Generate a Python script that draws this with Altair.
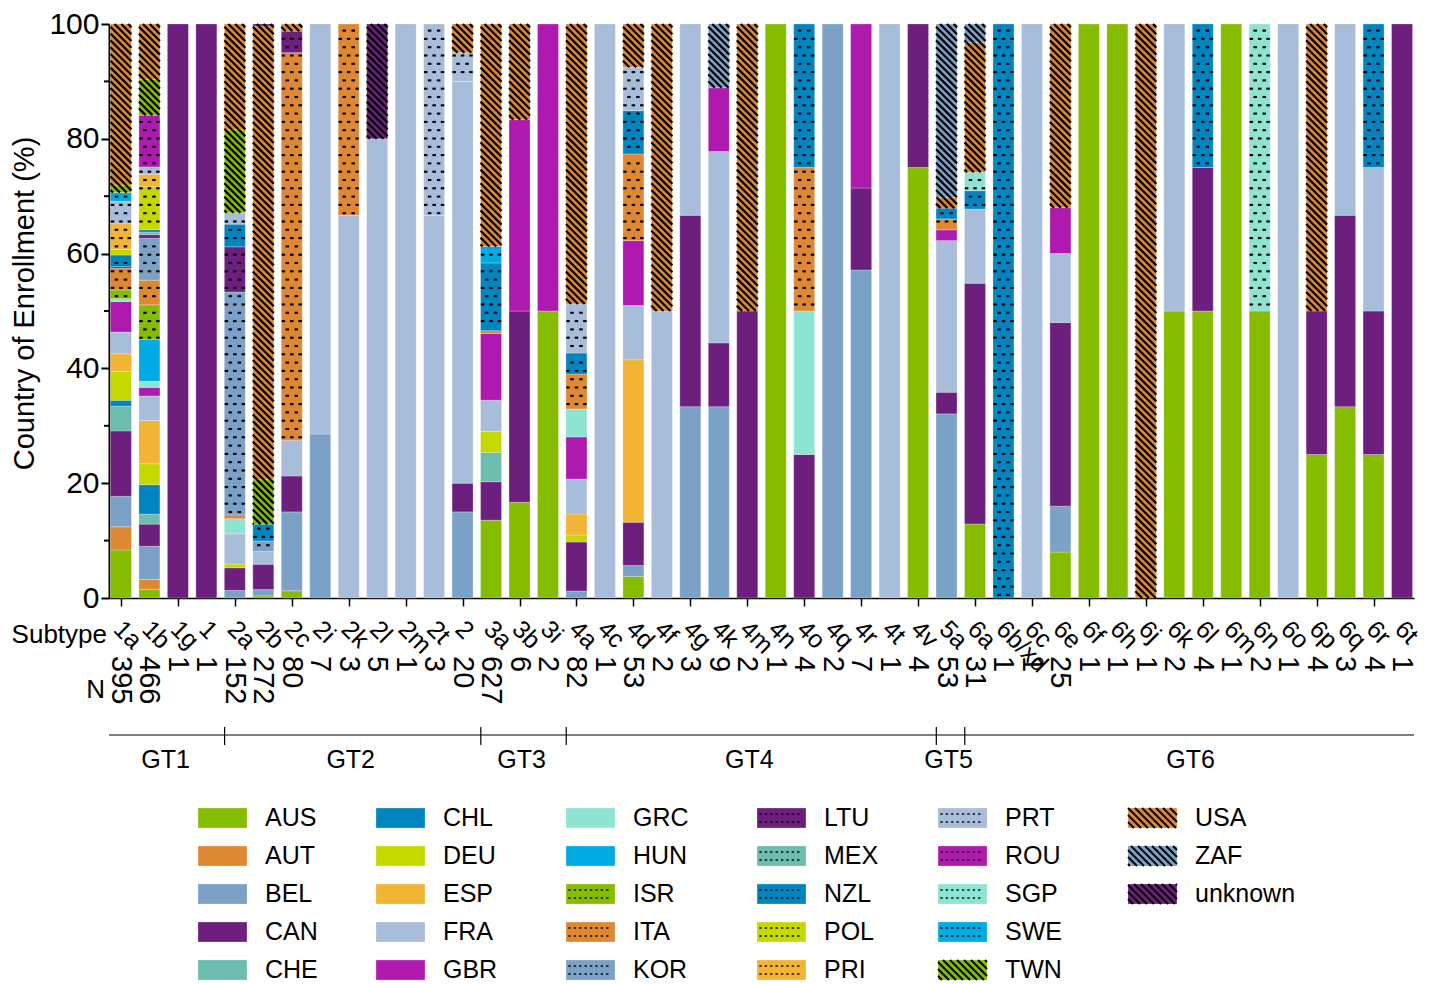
import math
import altair as alt
import pandas as pd

# ---------------- data ----------------
SUBTYPES = ["1a", "1b", "1g", "1", "2a", "2b", "2c", "2i", "2k", "2l", "2m", "2t", "2",
            "3a", "3b", "3i", "4a", "4c", "4d", "4f", "4g", "4k", "4m", "4n", "4o", "4q",
            "4r", "4t", "4v", "5a", "6a", "6b/xd", "6c", "6e", "6f", "6h", "6j", "6k",
            "6l", "6m", "6n", "6o", "6p", "6q", "6r", "6t"]
N_VALUES = [395, 466, 1, 1, 152, 272, 80, 7, 3, 5, 1, 3, 20, 627, 6, 2, 82, 1, 53, 2, 3,
            9, 2, 1, 4, 2, 7, 1, 4, 53, 31, 1, 1, 25, 1, 1, 1, 2, 4, 1, 2, 1, 4, 3, 4, 1]

COUNTRIES = ["AUS", "AUT", "BEL", "CAN", "CHE", "CHL", "DEU", "ESP", "FRA", "GBR", "GRC",
             "HUN", "ISR", "ITA", "KOR", "LTU", "MEX", "NZL", "POL", "PRI", "PRT", "ROU",
             "SGP", "SWE", "TWN", "USA", "ZAF", "unknown"]
BASE_COLORS = ["#86bc00", "#de8834", "#7ba1c6", "#6d1f7e", "#6dbcb0", "#0085be",
               "#c5d800", "#f1b434", "#a8bdd9", "#ae1aad", "#8ee4d3", "#00aae2"]
PATTERNS = ["solid", "dots", "hatch"]

GT1_COUNTS = {
    "1a": {"AUS": 33, "AUT": 16, "BEL": 21, "CAN": 45, "CHE": 17, "CHL": 4, "DEU": 20,
           "ESP": 12, "FRA": 15, "GBR": 21, "GRC": 2, "ISR": 6, "ITA": 15, "LTU": 1,
           "NZL": 8, "POL": 4, "PRI": 18, "PRT": 15, "SWE": 6, "TWN": 5, "USA": 111},
    "1b": {"AUS": 7, "AUT": 8, "BEL": 27, "CAN": 18, "CHE": 8, "CHL": 24, "DEU": 17,
           "ESP": 35, "FRA": 20, "GBR": 7, "GRC": 5, "HUN": 34, "ISR": 28, "ITA": 20,
           "KOR": 34, "LTU": 3, "MEX": 2, "NZL": 2, "POL": 35, "PRI": 10, "PRT": 6,
           "ROU": 42, "TWN": 29, "USA": 45},
    "1g": {"CAN": 1},
    "1": {"CAN": 1},
}
GT2_COUNTS = {
    "2a": {"BEL": 2, "CAN": 6, "DEU": 1, "FRA": 8, "GRC": 4, "ITA": 1, "KOR": 59,
           "LTU": 12, "NZL": 6, "PRT": 3, "TWN": 22, "USA": 28},
    "2b": {"AUS": 1, "BEL": 3, "CAN": 12, "FRA": 6, "KOR": 5, "NZL": 8, "TWN": 21,
           "USA": 215, "unknown": 1},
    "2c": {"AUS": 1, "BEL": 11, "CAN": 5, "FRA": 5, "ITA": 54, "LTU": 3, "USA": 1},
    "2i": {"BEL": 2, "FRA": 5},
    "2k": {"FRA": 2, "ITA": 1},
    "2l": {"FRA": 4, "unknown": 1},
    "2m": {"FRA": 1},
    "2t": {"FRA": 2, "PRT": 1},
    "2": {"BEL": 3, "CAN": 1, "FRA": 14, "PRT": 1, "USA": 1},
}
GT3_COUNTS = {
    "3a": {"AUS": 85, "CAN": 42, "CHE": 32, "DEU": 23, "FRA": 34, "GBR": 73, "ITA": 3,
           "NZL": 74, "SWE": 18, "USA": 243},
    "3b": {"AUS": 1, "CAN": 2, "GBR": 2, "USA": 1},
    "3i": {"AUS": 1, "GBR": 1},
}
GT4_COUNTS = {
    "4a": {"BEL": 1, "CAN": 7, "DEU": 1, "ESP": 3, "FRA": 5, "GBR": 6, "GRC": 4,
           "ITA": 5, "NZL": 3, "PRT": 7, "USA": 40},
    "4c": {"FRA": 1},
    "4d": {"AUS": 2, "BEL": 1, "CAN": 4, "ESP": 15, "FRA": 5, "GBR": 6, "ITA": 8,
           "NZL": 4, "PRT": 4, "USA": 4},
    "4f": {"FRA": 1, "USA": 1},
    "4g": {"BEL": 1, "CAN": 1, "FRA": 1},
    "4k": {"BEL": 3, "CAN": 1, "FRA": 3, "GBR": 1, "ZAF": 1},
    "4m": {"CAN": 1, "USA": 1},
    "4n": {"AUS": 1},
    "4o": {"CAN": 1, "GRC": 1, "ITA": 1, "NZL": 1},
    "4q": {"BEL": 2},
    "4r": {"BEL": 4, "CAN": 1, "GBR": 2},
    "4t": {"FRA": 1},
    "4v": {"AUS": 3, "CAN": 1},
}
GT5_COUNTS = {
    "5a": {"BEL": 17, "CAN": 2, "FRA": 14, "GBR": 1, "ITA": 1, "NZL": 1, "USA": 1,
           "ZAF": 16},
}
GT6_COUNTS = {
    "6a": {"AUS": 4, "CAN": 13, "FRA": 4, "NZL": 1, "SGP": 1, "USA": 7, "ZAF": 1},
    "6b/xd": {"NZL": 1},
    "6c": {"FRA": 1},
    "6e": {"AUS": 2, "BEL": 2, "CAN": 8, "FRA": 3, "GBR": 2, "USA": 8},
    "6f": {"AUS": 1},
    "6h": {"AUS": 1},
    "6j": {"USA": 1},
    "6k": {"AUS": 1, "FRA": 1},
    "6l": {"AUS": 2, "CAN": 1, "NZL": 1},
    "6m": {"AUS": 1},
    "6n": {"AUS": 1, "SGP": 1},
    "6o": {"FRA": 1},
    "6p": {"AUS": 1, "CAN": 1, "USA": 2},
    "6q": {"AUS": 1, "CAN": 1, "FRA": 1},
    "6r": {"AUS": 1, "CAN": 1, "FRA": 1, "NZL": 1},
    "6t": {"CAN": 1},
}
GROUP_TABLES = [("GT1", GT1_COUNTS), ("GT2", GT2_COUNTS), ("GT3", GT3_COUNTS),
                ("GT4", GT4_COUNTS), ("GT5", GT5_COUNTS), ("GT6", GT6_COUNTS)]

# ---------------- layout ----------------
FONT = "Liberation Sans"
W, H = 1305, 574
X_LO, X_HI = -0.42, 45.42
STEP = W / (X_HI - X_LO)      # px per bar slot
PXP = H / 100.0               # px per percent
BAR_PX = 21.0
BW = BAR_PX / STEP
PLOT_LEFT, PLOT_TOP = 109, 24
PAD = {"left": PLOT_LEFT - 8, "top": PLOT_TOP - 8, "right": 12, "bottom": 390}

LEG_COL_X = [198, 376, 566, 757, 938, 1128]
LEG_ROW0, LEG_ROW_GAP = 818, 38
LEG_W, LEG_H, LEG_TXT = 49, 20, 67

COLORS = [BASE_COLORS[i % 12] for i in range(len(COUNTRIES))]
PATTERN_OF = {c: PATTERNS[i // 12] for i, c in enumerate(COUNTRIES)}


def px_to_x(px):          # plot-relative pixel -> x data
    return X_LO + px / STEP


def py_to_y(py):          # plot-relative pixel from top -> y data
    return 100.0 - py / PXP


# stacked segments
seg_rows = []
for gname, counts in GROUP_TABLES:
    for st, cd in counts.items():
        i = SUBTYPES.index(st)
        tot = float(sum(cd.values()))
        cum = 0.0
        for c in COUNTRIES:
            if c not in cd:
                continue
            v = cd[c] / tot * 100.0
            seg_rows.append({"subtype": st, "idx": i, "group": gname, "country": c,
                             "pattern": PATTERN_OF[c], "y0": cum, "y1": cum + v,
                             "xl": i - BW / 2, "xr": i + BW / 2})
            cum += v
seg = pd.DataFrame(seg_rows)

# dotted pattern
DOT_ROW = 8.3
DOT_W = 3.5
DOT_SHAPE = "M-1,-0.6H1V0.6H-1Z"
dot_rows = []
for r in seg[seg.pattern == "dots"].itertuples():
    p0, p1 = r.y0 * PXP, r.y1 * PXP
    k = max(0, int(p0 // DOT_ROW) - 1)
    while True:
        yy = 3.0 + k * DOT_ROW
        if yy - 1.5 > p1:
            break
        if yy - 1.5 >= p0 and yy + 1.5 <= p1:
            offs = (-4.5, 4.5) if k % 2 == 0 else (-8.4, 0.0, 8.4)
            for o in offs:
                dot_rows.append({"x": r.idx + o / STEP, "y": yy / PXP})
        k += 1
dot_df = pd.DataFrame(dot_rows)


def hatch_segments(w, lo, hi, gap):
    out = []
    k = math.floor(lo / gap)
    kmax = math.ceil((hi + w) / gap)
    while k <= kmax:
        c = k * gap
        xs = max(0.0, c - hi)
        xe = min(w, c - lo)
        if xe - xs > 0.6:
            out.append((xs, c - xs, xe, c - xe))
        k += 1
    return out


HATCH_GAP = 6.8
hatch_rows = []
for r in seg[seg.pattern == "hatch"].itertuples():
    for xs, ya, xe, yb in hatch_segments(BAR_PX, r.y0 * PXP, r.y1 * PXP, HATCH_GAP):
        hatch_rows.append({"x1": r.xl + xs / STEP, "y1": ya / PXP,
                           "x2": r.xl + xe / STEP, "y2": yb / PXP})
hatch_df = pd.DataFrame(hatch_rows)

# subtype / N rows
sub_df = pd.DataFrame({"idx": list(range(len(SUBTYPES))), "label": SUBTYPES,
                       "n": [str(v) for v in N_VALUES]})

# genotype groups
grp_rows, sep_rows = [], []
for gi, (gname, counts) in enumerate(GROUP_TABLES):
    ids = [SUBTYPES.index(s) for s in counts]
    grp_rows.append({"name": gname, "cx": (min(ids) + max(ids)) / 2.0})
    if gi < len(GROUP_TABLES) - 1:
        sep_rows.append({"bx": max(ids) + 0.5})
grp_df = pd.DataFrame(grp_rows)
sep_df = pd.DataFrame(sep_rows)

# legend
leg_rows, leg_dot_rows, leg_hatch_rows = [], [], []
for i, c in enumerate(COUNTRIES):
    col, row = divmod(i, 5)
    sx = LEG_COL_X[col] - PLOT_LEFT
    cy = LEG_ROW0 + row * LEG_ROW_GAP - PLOT_TOP
    leg_rows.append({"country": c,
                     "lx": px_to_x(sx), "lx2": px_to_x(sx + LEG_W),
                     "ly": py_to_y(cy - LEG_H / 2), "ly2": py_to_y(cy + LEG_H / 2),
                     "tx": px_to_x(sx + LEG_TXT), "ty": py_to_y(cy)})
    if PATTERN_OF[c] == "dots":
        for dy in (-4.0, 4.0):
            xx = 3.5
            while xx <= LEG_W - 3:
                leg_dot_rows.append({"x": px_to_x(sx + xx), "y": py_to_y(cy + dy)})
                xx += 5.4
    elif PATTERN_OF[c] == "hatch":
        lo, hi = -(cy + LEG_H / 2), -(cy - LEG_H / 2)
        for xs, ya, xe, yb in hatch_segments(LEG_W, lo, hi, 7.0):
            leg_hatch_rows.append({"x1": px_to_x(sx + xs), "y1": py_to_y(-ya),
                                   "x2": px_to_x(sx + xe), "y2": py_to_y(-yb)})
leg_df = pd.DataFrame(leg_rows)
leg_dot_df = pd.DataFrame(leg_dot_rows)
leg_hatch_df = pd.DataFrame(leg_hatch_rows)

# ---------------- chart ----------------
XS = alt.Scale(domain=[X_LO, X_HI], nice=False, zero=False)
YS = alt.Scale(domain=[0, 100], nice=False, zero=False)
CS = alt.Scale(domain=COUNTRIES, range=COLORS)

bars = alt.Chart(seg).mark_rect(stroke="white", strokeWidth=0.5, strokeOpacity=0.5).encode(
    x=alt.X("xl:Q", scale=XS, title="",
            axis=alt.Axis(values=list(range(len(SUBTYPES))), labels=False,
                          tickSize=8, tickWidth=1.5, tickColor="black",
                          domainColor="black", domainWidth=1.5, grid=False)),
    x2="xr:Q",
    y=alt.Y("y0:Q", scale=YS, title="Country of Enrollment (%)",
            axis=alt.Axis(values=[0, 20, 40, 60, 80, 100], titleFontSize=29,
                          titleFont=FONT, titleFontWeight="normal", titleColor="black",
                          titlePadding=9, titleY=279, labelFontSize=30, labelFont=FONT,
                          labelColor="black", labelPadding=2, tickSize=8, tickWidth=2,
                          tickColor="black", domainColor="black", domainWidth=2,
                          grid=False)),
    y2="y1:Q",
    color=alt.Color("country:N", scale=CS, legend=None),
)

dots = alt.Chart(dot_df).mark_point(shape=DOT_SHAPE, filled=True, color="black",
                                    size=DOT_W ** 2, opacity=1, strokeWidth=0).encode(
    x=alt.X("x:Q", scale=XS), y=alt.Y("y:Q", scale=YS))

hatch = alt.Chart(hatch_df).mark_rule(color="black", strokeWidth=2.2).encode(
    x=alt.X("x1:Q", scale=XS), x2="x2:Q",
    y=alt.Y("y1:Q", scale=YS), y2="y2:Q")

minor = alt.Chart(pd.DataFrame({"v": [10, 30, 50, 70, 90]})).mark_rule(
    color="black", strokeWidth=2).encode(
    y=alt.Y("v:Q", scale=YS), x=alt.value(0), x2=alt.value(-5))

one = pd.DataFrame({"a": [0]})
subtype_lbl = alt.Chart(one).mark_text(align="right", baseline="middle", fontSize=26,
                                       font=FONT, color="black").encode(
    x=alt.value(-2), y=alt.value(611), text=alt.value("Subtype"))
n_lbl = alt.Chart(one).mark_text(align="right", baseline="middle", fontSize=26,
                                 font=FONT, color="black").encode(
    x=alt.value(-4), y=alt.value(666), text=alt.value("N"))

sub_txt = alt.Chart(sub_df).mark_text(angle=45, align="left", baseline="middle",
                                      fontSize=25, font=FONT, color="black",
                                      xOffset=-3).encode(
    x=alt.X("idx:Q", scale=XS), y=alt.value(601), text="label:N")

ntext = alt.Chart(sub_df).mark_text(angle=90, align="left", baseline="middle",
                                    fontSize=29, font=FONT, color="black").encode(
    x=alt.X("idx:Q", scale=XS), y=alt.value(632), text="n:N")

gt_line = alt.Chart(one).mark_rule(color="black", strokeWidth=1.2).encode(
    x=alt.value(0), x2=alt.value(W), y=alt.value(711))
gt_sep = alt.Chart(sep_df).mark_rule(color="black", strokeWidth=1.2, xOffset=4).encode(
    x=alt.X("bx:Q", scale=XS), y=alt.value(703), y2=alt.value(721))
gt_txt = alt.Chart(grp_df).mark_text(baseline="middle", fontSize=25, font=FONT,
                                     color="black", xOffset=2).encode(
    x=alt.X("cx:Q", scale=XS), y=alt.value(736), text="name:N")

leg_rect = alt.Chart(leg_df).mark_rect(stroke="white", strokeWidth=0.5,
                                       strokeOpacity=0.5).encode(
    x=alt.X("lx:Q", scale=XS), x2="lx2:Q",
    y=alt.Y("ly:Q", scale=YS), y2="ly2:Q",
    color=alt.Color("country:N", scale=CS, legend=None))
leg_dots = alt.Chart(leg_dot_df).mark_point(shape=DOT_SHAPE, filled=True, color="black",
                                            size=5.5, opacity=1, strokeWidth=0).encode(
    x=alt.X("x:Q", scale=XS), y=alt.Y("y:Q", scale=YS))
leg_hatch = alt.Chart(leg_hatch_df).mark_rule(color="black", strokeWidth=2).encode(
    x=alt.X("x1:Q", scale=XS), x2="x2:Q",
    y=alt.Y("y1:Q", scale=YS), y2="y2:Q")
leg_text = alt.Chart(leg_df).mark_text(align="left", baseline="middle", fontSize=25,
                                       font=FONT, color="black").encode(
    x=alt.X("tx:Q", scale=XS), y=alt.Y("ty:Q", scale=YS),
    text="country:N")

chart = alt.layer(
    bars, dots, hatch, minor, subtype_lbl, n_lbl, sub_txt, ntext, gt_line, gt_sep,
    gt_txt, leg_rect, leg_dots, leg_hatch, leg_text,
).properties(
    width=W, height=H, autosize=alt.AutoSizeParams(type="none"), padding=PAD,
).configure_view(stroke=None)

chart.save("out.html", embed_options={"renderer": "svg", "actions": False})
